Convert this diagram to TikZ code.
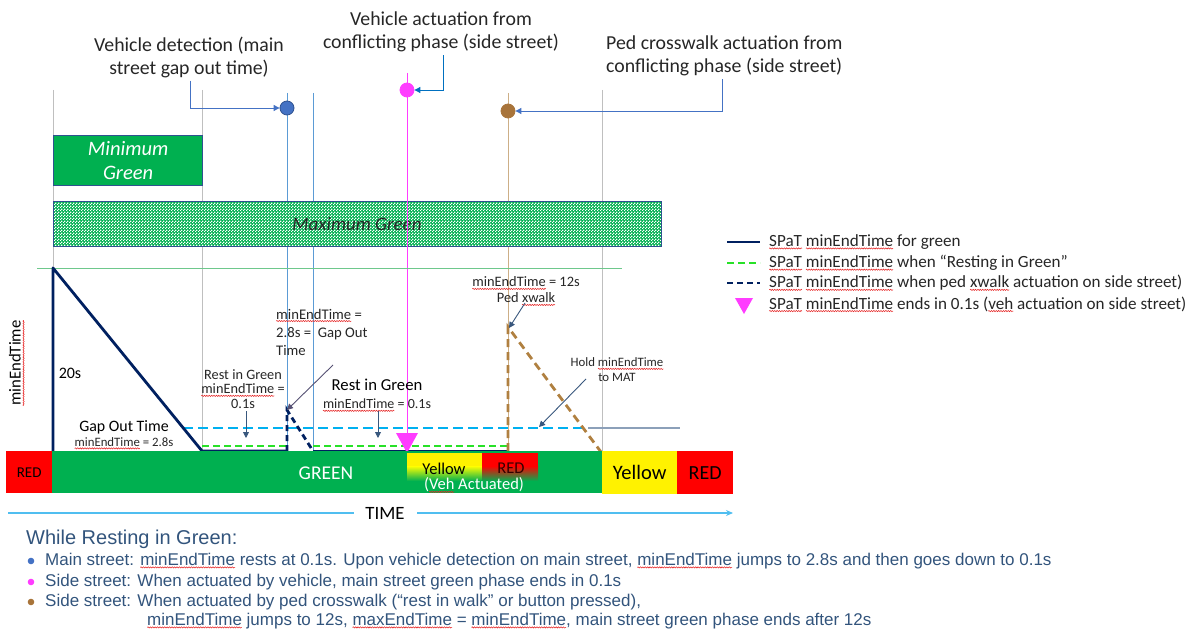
\documentclass[tikz,border=0pt]{standalone}
\usepackage{fontspec}
\setmainfont{Carlito}
\newfontfamily\arialfont{Liberation Sans}
\usetikzlibrary{arrows.meta,patterns.meta,decorations.pathmorphing}

\definecolor{barGreen}{RGB}{0,176,80}
\definecolor{navy}{RGB}{0,32,96}
\definecolor{limeDash}{RGB}{40,225,40}
\definecolor{skyDash}{RGB}{0,176,240}
\definecolor{brownDash}{RGB}{176,128,64}
\definecolor{brownDot}{RGB}{168,116,58}
\definecolor{tanLine}{RGB}{205,175,135}
\definecolor{magentaMark}{RGB}{255,60,255}
\definecolor{dotBlue}{RGB}{68,114,196}
\definecolor{dotBlueEdge}{RGB}{47,82,143}
\definecolor{thinBlue}{RGB}{91,155,213}
\definecolor{calloutBlue}{RGB}{68,114,196}
\definecolor{calloutBlue2}{RGB}{0,112,192}
\definecolor{gridGray}{RGB}{191,191,191}
\definecolor{boxEdge}{RGB}{47,82,143}
\definecolor{refGreen}{RGB}{110,200,140}
\definecolor{steelArrow}{RGB}{56,87,125}
\definecolor{gapArrow}{RGB}{85,80,115}
\definecolor{timeBlue}{RGB}{80,190,240}
\definecolor{noteBlue}{RGB}{50,84,124}
\definecolor{holdLine}{RGB}{140,160,185}
\definecolor{spellRed}{RGB}{230,40,40}

% fine white stipple laid over the Maximum Green band
\tikzdeclarepattern{
  name=stipple,
  type=uncolored,
  bounding box={(0pt,0pt) and (3pt,3pt)},
  tile size={(3pt,3pt)},
  code={
    \fill (0pt,0pt) rectangle (1.5pt,1.5pt);
    \fill (1.5pt,1.5pt) rectangle (3pt,3pt);
  }
}

\tikzset{
  spellmark/.style={draw=spellRed, line width=0.55pt, decorate,
    decoration={snake, amplitude=0.6pt, segment length=2.4pt}},
}
% word with a red wavy proofing underline
\newcommand\wavy[1]{\tikz[baseline=(w.base)]{\node[inner sep=0pt,outer sep=0pt,anchor=base,draw=none,fill=none,shape=rectangle,minimum size=0pt] (w) {#1};\draw[spellmark,overlay] ([yshift=-2pt]w.base west) -- ([yshift=-2pt]w.base east);}}
\newcommand\met{\wavy{minEndTime}}

\begin{document}
\begin{tikzpicture}[x=1pt,y=-1pt,
  toptext/.style={font=\fontsize{19.8}{23}\selectfont, text=black!85, inner sep=0pt},
  smalltext/.style={font=\fontsize{14.2}{16}\selectfont, text=black!85, inner sep=0pt, align=center},
  legendtext/.style={font=\fontsize{17.1}{20}\selectfont, text=black!85, inner sep=0pt, anchor=west},
  notetext/.style={font=\arialfont\fontsize{17}{20}\selectfont, text=noteBlue, inner sep=0pt, anchor=west},
  callout/.style={draw=calloutBlue, line width=0.9pt, -{Triangle[length=6pt,width=6pt]}},
  labelarrow/.style={draw=steelArrow, line width=0.9pt, -{Triangle[length=6pt,width=6pt]}},
  gridline/.style={draw=gridGray, line width=0.9pt},
  markline/.style={line width=0.9pt},
  dot/.style={circle, minimum size=14pt, inner sep=0pt, line width=0.8pt},
  navyline/.style={draw=navy, line width=2.8pt, line join=round},
  navydash/.style={draw=navy, line width=2.8pt, dash pattern=on 6pt off 4pt},
  limedash/.style={draw=limeDash, line width=2.4pt, dash pattern=on 7pt off 4pt},
  skydash/.style={draw=skyDash, line width=2.4pt, dash pattern=on 10pt off 5pt},
  browndash/.style={draw=brownDash, line width=2.8pt, dash pattern=on 8pt off 5pt},
  barbox/.style={inner sep=0pt, anchor=north west},
]
\useasboundingbox (0,0) rectangle (1194,631);

% ---------- vertical time markers ----------
\draw[gridline] (53,90) -- (53,451);
\draw[gridline] (202,90) -- (202,451);
\draw[gridline] (602,90) -- (602,451);
\draw[markline, draw=thinBlue] (287,93) -- (287,451);
\draw[markline, draw=thinBlue] (313,93) -- (313,451);
\draw[markline, draw=tanLine] (508,93) -- (508,451);

% ---------- minimum / maximum green ----------
\node[barbox, draw=boxEdge, line width=1.2pt, fill=barGreen, minimum width=149pt, minimum height=50pt] (ming) at (53,135) {};
\node[font=\fontsize{20.5}{24}\selectfont\itshape, text=white, align=center, inner sep=0pt] (minglbl) at (ming.center) {Minimum\\Green};
\node[barbox, draw=boxEdge, line width=1.2pt, preaction={fill=barGreen}, pattern=stipple, pattern color=white, minimum width=608pt, minimum height=45pt] (maxg) at (53,201) {};
\node[font=\fontsize{19}{22}\selectfont\itshape, text=black!85, inner sep=0pt] (maxglbl) at (357,224) {Maximum Green};

% side-street vehicle marker runs over the bands
\draw[markline, draw=magentaMark] (407,73) -- (407,452);

% ---------- event dots and their captions ----------
\node[dot, fill=dotBlue, draw=dotBlueEdge] (detdot) at (287,108) {};
\node[dot, fill=magentaMark, draw=magentaMark] (actdot) at (407,90) {};
\node[dot, fill=brownDot, draw=brownDot] (peddot) at (508,111) {};

\node[toptext, align=center] (detlbl) at (189,57) {Vehicle detection (main\\street gap out time)};
\node[toptext, align=center] (actlbl) at (441,32) {Vehicle actuation from\\conflicting phase (side street)};
\node[toptext, align=left, anchor=west] (pedlbl) at (606,56) {Ped crosswalk actuation from\\conflicting phase (side street)};

\draw[callout] ([xshift=1pt,yshift=-3pt]detlbl.south) |- (detdot.west);
\draw[callout, draw=calloutBlue2] ([xshift=2pt,yshift=-3pt]actlbl.south) |- (actdot.east);
\draw[callout] ([xshift=-2pt,yshift=-3pt]pedlbl.south) |- (peddot.east);

% ---------- minEndTime traces ----------
\draw[draw=refGreen, line width=0.9pt] (37,268) -- (622,268);

\coordinate (start) at (53,451);
\coordinate (peak) at (53,268);
\coordinate (mgEnd) at (202,451);
\coordinate (detA) at (287,451);
\coordinate (detTop) at (287,410);
\coordinate (detB) at (313,451);
\coordinate (pedA) at (508,451);
\coordinate (pedTop) at (508,327);
\coordinate (pedEnd) at (601,452);

\draw[skydash] (183,428) -- (588,428);
\draw[draw=holdLine, line width=1.2pt] (588,428) -- (680,428);
\draw[limedash] (202,446) -- (287,446);
\draw[limedash] (313,446) -- (508,446);
\draw[navyline] (start) -- (peak) -- (mgEnd) -- (detA);
\draw[navyline] (detB) -- (pedA);
\draw[navydash] (detA) -- (detTop) -- (detB);
\draw[browndash] (pedA) -- (pedTop) -- (pedEnd);
\fill[magentaMark] (396,433) -- (418,433) -- (407,453) -- cycle;

% ---------- chart labels ----------
\node[font=\fontsize{16.7}{20}\selectfont, inner sep=0pt, rotate=90] (yaxis) at (15,363) {minEndTime};
\draw[spellmark] ([xshift=2.5pt]yaxis.south west) -- ([xshift=2.5pt]yaxis.south east);
\node[font=\fontsize{16}{19}\selectfont, inner sep=0pt] (twenty) at (70,373) {20s};
\node[font=\fontsize{15.9}{19}\selectfont, inner sep=0pt] (gapout) at (124,427) {Gap Out Time};
\node[smalltext, font=\fontsize{12.8}{15}\selectfont] (gapval) at (124,442) {\met{} = 2.8s};

\node[smalltext, font=\fontsize{14.3}{14.5}\selectfont] (rest1) at (243,389) {Rest in Green\\\met{} =\\0.1s};
\draw[labelarrow] (246,411) -- (246,438);

\node[smalltext, font=\fontsize{14.7}{18}\selectfont, align=left, anchor=west] (gapnote) at (276,332) {\met{} =\\2.8s =\ \ Gap Out\\Time};
\draw[labelarrow, draw=gapArrow] (333,365) -- (detTop);

\node[font=\fontsize{16.7}{20}\selectfont, inner sep=0pt] (rest2) at (377,385) {Rest in Green};
\node[smalltext, font=\fontsize{14}{16}\selectfont] (rest2val) at (377,404) {\met{} = 0.1s};
\draw[labelarrow] (378,411) -- (378,438);

\node[smalltext, font=\fontsize{14.4}{16}\selectfont] (pednote) at (526,290) {\met{} = 12s\\Ped \wavy{xwalk}};
\draw[labelarrow] (525,303) -- ([xshift=1pt,yshift=-1pt]pedTop);

\node[smalltext, font=\fontsize{12.8}{15}\selectfont] (holdnote) at (617,370) {Hold \met\\to MAT};
\draw[labelarrow] (586,379) -- (539,427);

% ---------- phase bar ----------
\node[barbox, fill=red, minimum width=46pt, minimum height=42pt] (red1) at (6,451) {};
\node[font=\fontsize{15}{18}\selectfont, inner sep=0pt] (red1lbl) at (red1.center) {RED};
\node[barbox, fill=barGreen, minimum width=550pt, minimum height=42pt] (greenbar) at (52,451) {};
\node[font=\fontsize{19.5}{23}\selectfont, text=white, inner sep=0pt] (greenlbl) at (326,473) {GREEN};

\fill[yellow] (407,453) rectangle (482,466);
\shade[top color=yellow, bottom color=barGreen] (407,466) rectangle (482,481);
\fill[red] (482,453) rectangle (538,466);
\shade[top color=red, bottom color=barGreen] (482,466) rectangle (538,481);
\node[font=\fontsize{16.5}{19}\selectfont, inner sep=0pt] (vehyel) at (444,469) {Yellow};
\node[font=\fontsize{16.5}{19}\selectfont, text=black!80!red, inner sep=0pt] (vehred) at (511,468) {RED};
\node[font=\fontsize{16.5}{19}\selectfont, text=white, inner sep=0pt] (vehact) at (474,485) {(\wavy{Veh} Actuated)};

\node[barbox, fill=yellow, minimum width=75pt, minimum height=43pt] (yel2) at (602,451) {};
\node[font=\fontsize{20.5}{24}\selectfont, inner sep=0pt] (yel2lbl) at (yel2.center) {Yellow};
\node[barbox, fill=red, minimum width=56pt, minimum height=43pt] (red2) at (677,451) {};
\node[font=\fontsize{20}{24}\selectfont, inner sep=0pt] (red2lbl) at (red2.center) {RED};

% ---------- time axis ----------
\node[font=\fontsize{18.8}{22}\selectfont, inner sep=0pt] (timelbl) at (385,513) {TIME};
\coordinate (timeL) at (8,513);
\coordinate (timeR) at (733,513);
\draw[draw=timeBlue, line width=1.3pt] (timeL) -- (354,513);
\draw[draw=timeBlue, line width=1.3pt, -{Stealth[length=7pt,width=6pt]}] (417,513) -- (timeR);

% ---------- legend ----------
\draw[navyline] (727,242) -- (760,242);
\draw[limedash, dash pattern=on 7pt off 4pt] (727,263) -- (760,263);
\draw[navydash] (727,283) -- (760,283);
\fill[magentaMark] (735,298) -- (753,298) -- (744,314) -- cycle;
\node[legendtext] (leg1) at (769,242) {\wavy{SPaT} \met{} for green};
\node[legendtext] (leg2) at (769,263) {\wavy{SPaT} \met{} when “Resting in Green”};
\node[legendtext] (leg3) at (769,283) {\wavy{SPaT} \met{} when ped \wavy{xwalk} actuation on side street)};
\node[legendtext] (leg4) at (769,304) {\wavy{SPaT} \met{} ends in 0.1s (\wavy{veh} actuation on side street)};

% ---------- notes ----------
\node[notetext, font=\arialfont\fontsize{20}{23}\selectfont] (notehead) at (26,539) {While Resting in Green:};
\fill[dotBlue] (31,561) circle (3.3pt);
\fill[magentaMark] (31,582) circle (3.3pt);
\fill[brownDot] (31,602) circle (3.3pt);
\node[notetext] (note1) at (45,561) {Main street: \met{} rests at 0.1s. Upon vehicle detection on main street, \met{} jumps to 2.8s and then goes down to 0.1s};
\node[notetext] (note2) at (45,582) {Side street: When actuated by vehicle, main street green phase ends in 0.1s};
\node[notetext] (note3) at (45,602) {Side street: When actuated by ped crosswalk (“rest in walk” or button pressed),};
\node[notetext] (note4) at (147,621) {\met{} jumps to 12s, \wavy{maxEndTime} = \met{}, main street green phase ends after 12s};
\end{tikzpicture}
\end{document}
